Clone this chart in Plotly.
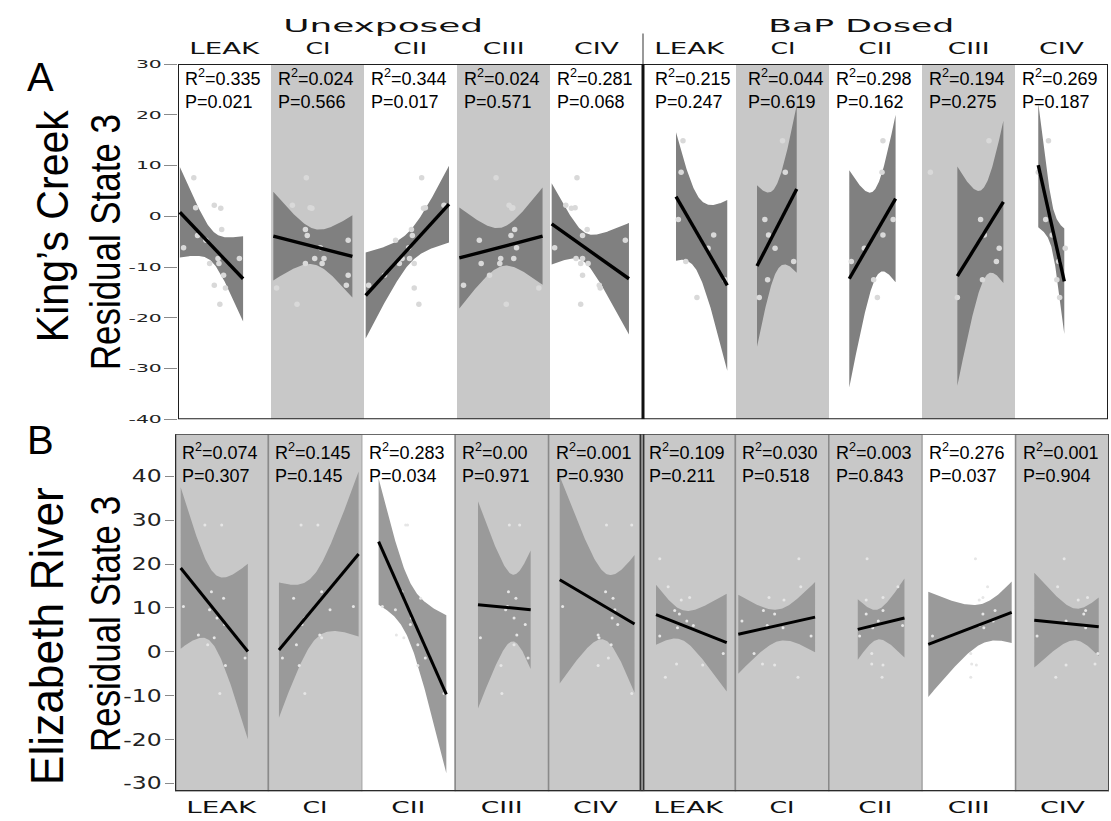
import numpy as np
import plotly.graph_objects as go

W, H = 1111, 821

COMPLEXES = ["LEAK", "CI", "CII", "CIII", "CIV"]
GROUP_TITLES = ["Unexposed", "BaP Dosed"]

# ---------------- Panel A : King's Creek ----------------
# residual state 3 values (shared by every complex within a group)
A_UNEXP_Y = [7.6, 2.2, 1.7, 1.6, -2.6, -3.8, -4.7, -6.2, -8.3, -8.3, -9.3, -9.3, -11.6, -13.6, -14.1, -17.3]
A_BAP_Y = [14.9, 8.7, -0.6, -3.7, -6.3, -8.9, -12.5, -16.0]
# complex activity, expressed as position inside each column (0..1)
A_UNEXP_X = [
    [0.17, 0.39, 0.19, 0.46, 0.47, 0.21, 0.30, 0.06, 0.43, 0.66, 0.34, 0.44, 0.49, 0.39, 0.51, 0.45],
    [0.38, 0.23, 0.42, 0.44, 0.37, 0.39, 0.83, 0.53, 0.47, 0.57, 0.37, 0.55, 0.83, 0.81, 0.06, 0.28],
    [0.62, 0.86, 0.66, 0.64, 0.51, 0.52, 0.34, 0.48, 0.41, 0.49, 0.38, 0.54, 0.22, 0.05, 0.54, 0.59],
    [0.42, 0.56, 0.60, 0.59, 0.62, 0.58, 0.24, 0.64, 0.47, 0.61, 0.26, 0.46, 0.35, 0.07, 0.88, 0.53],
    [0.29, 0.17, 0.27, 0.23, 0.40, 0.35, 0.81, 0.05, 0.28, 0.35, 0.33, 0.41, 0.35, 0.53, 0.54, 0.33],
]
A_BAP_X = [
    [0.43, 0.41, 0.38, 0.76, 0.70, 0.46, 0.88, 0.58],
    [0.50, 0.53, 0.31, 0.35, 0.42, 0.62, 0.34, 0.25],
    [0.58, 0.57, 0.69, 0.58, 0.38, 0.24, 0.48, 0.52],
    [0.72, 0.09, 0.63, 0.67, 0.83, 0.80, 0.65, 0.38],
    [0.36, 0.25, 0.33, 0.40, 0.54, 0.47, 0.45, 0.48],
]
# regression fits: x-range, fitted value at each end, 95% band half-width (left end, narrowest, right end)
A_X_LO = [0.02, 0.025, 0.018, 0.025, 0.018, 0.355, 0.226, 0.218, 0.38, 0.25]
A_X_HI = [0.70, 0.875, 0.914, 0.92, 0.849, 0.906, 0.653, 0.716, 0.875, 0.53]
A_FIT_LO = [0.8, -3.9, -15.6, -8.2, -1.5, 3.9, -9.8, -12.3, -11.8, 10.1]
A_FIT_HI = [-12.3, -7.9, 2.4, -3.9, -12.3, -13.6, 5.4, 3.5, 2.85, -12.8]
A_HW_LEFT = [8.9, 8.75, 8.45, 9.95, 8.0, 12.65, 15.9, 21.4, 21.6, 12.25]
A_HW_MIN = [3.1, 3.5, 3.2, 3.8, 2.9, 7.5, 8.5, 8.8, 9.0, 4.5]
A_HW_RIGHT = [8.4, 8.1, 7.55, 9.6, 11.0, 16.8, 16.5, 16.5, 16.0, 10.4]
A_R2 = ["0.335", "0.024", "0.344", "0.024", "0.281", "0.215", "0.044", "0.298", "0.194", "0.269"]
A_P = ["0.021", "0.566", "0.017", "0.571", "0.068", "0.247", "0.619", "0.162", "0.275", "0.187"]

# ---------------- Panel B : Elizabeth River ----------------
B_UNEXP_Y = [28.9, 28.9, 13.7, 12.2, 10.3, 9.6, 7.7, 6.2, 3.8, 3.2, 1.6, -1.4, -3.1, -9.5]
B_BAP_Y = [21.2, 14.8, 12.4, 11.8, 9.4, 8.6, 7.0, 6.0, 5.5, 3.6, -0.4, -2.8, -3.0, -5.8]
B_UNEXP_X = [
    [0.32, 0.50, 0.39, 0.52, 0.09, 0.37, 0.45, 0.53, 0.25, 0.42, 0.35, 0.75, 0.54, 0.48],
    [0.35, 0.53, 0.57, 0.27, 0.91, 0.66, 0.39, 0.36, 0.55, 0.57, 0.30, 0.15, 0.33, 0.39],
    [0.47, 0.49, 0.43, 0.63, 0.22, 0.36, 0.53, 0.52, 0.37, 0.45, 0.60, 0.68, 0.60, 0.88],
    [0.58, 0.69, 0.57, 0.65, 0.56, 0.54, 0.63, 0.75, 0.66, 0.27, 0.63, 0.78, 0.49, 0.50],
    [0.62, 0.89, 0.61, 0.69, 0.15, 0.71, 0.68, 0.74, 0.53, 0.54, 0.67, 0.64, 0.53, 0.89],
]
B_BAP_X = [
    [0.19, 0.28, 0.51, 0.42, 0.35, 0.40, 0.48, 0.55, 0.38, 0.19, 0.87, 0.37, 0.65, 0.25],
    [0.68, 0.70, 0.36, 0.52, 0.30, 0.42, 0.07, 0.34, 0.51, 0.81, 0.20, 0.29, 0.42, 0.67],
    [0.41, 0.74, 0.58, 0.40, 0.58, 0.40, 0.53, 0.79, 0.47, 0.33, 0.46, 0.46, 0.58, 0.57],
    [0.57, 0.70, 0.65, 0.61, 0.78, 0.65, 0.76, 0.61, 0.66, 0.11, 0.52, 0.53, 0.58, 0.52],
    [0.52, 0.45, 0.77, 0.67, 0.75, 0.73, 0.54, 0.73, 0.75, 0.23, 0.88, 0.85, 0.54, 0.43],
]
B_X_LO = [0.061, 0.113, 0.18, 0.244, 0.119, 0.15, 0.031, 0.31, 0.065, 0.2]
B_X_HI = [0.78, 0.966, 0.905, 0.808, 0.92, 0.907, 0.853, 0.81, 0.958, 0.89]
B_FIT_LO = [19.1, 0.4, 25.1, 10.7, 16.4, 8.45, 4.0, 5.1, 1.7, 7.2]
B_FIT_HI = [0.07, 22.3, -9.7, 9.6, 6.35, 2.1, 7.9, 7.7, 9.0, 5.7]
B_HW_LEFT = [18.4, 15.4, 14.4, 23.6, 23.6, 6.85, 9.0, 6.9, 12.0, 10.8]
B_HW_MIN = [8.2, 7.5, 6.8, 7.6, 7.6, 3.4, 3.6, 3.4, 4.5, 3.6]
B_HW_RIGHT = [20.0, 18.8, 18.0, 13.5, 15.7, 11.15, 8.0, 9.0, 7.0, 6.65]
B_R2 = ["0.074", "0.145", "0.283", "0.00", "0.001", "0.109", "0.030", "0.003", "0.276", "0.001"]
B_P = ["0.307", "0.145", "0.034", "0.971", "0.930", "0.211", "0.518", "0.843", "0.037", "0.904"]

# ---------------- geometry (pixels) ----------------
A_LEFT, A_RIGHT, A_TOP, A_BOTTOM = 178, 1108, 59, 420
B_LEFT, B_RIGHT, B_TOP, B_BOTTOM = 175, 1109, 435, 798
A_YRANGE = [-40, 30]
B_YRANGE = [-31.8, 49.6]

GRAY_COL = "#c8c8c8"


def px_x(x):
    return x / W


def px_y(y):
    return 1 - y / H


def conf_band(lo, hi, y_lo, y_hi, hw_l, hw_min, hw_r, n=90):
    """Straight fit with a hyperbolic confidence band."""
    rl = np.sqrt(max(hw_l ** 2 - hw_min ** 2, 0.0))
    rr = np.sqrt(max(hw_r ** 2 - hw_min ** 2, 0.0))
    k = (rl + rr) / (hi - lo)
    centre = lo + rl / k
    u = np.linspace(lo, hi, n)
    fit = y_lo + (y_hi - y_lo) * (u - lo) / (hi - lo)
    half = np.sqrt(hw_min ** 2 + (k * (u - centre)) ** 2)
    return u, fit + half, fit - half


fig = go.Figure()


def add_panel(xa, ya, xs_groups, ys_groups, lo, hi, f_lo, f_hi, hw_l, hw_m, hw_r,
              band_col, pt_col, pt_size, line_w):
    for i in range(10):
        g = i // 5
        xs = np.array(xs_groups[g][i % 5]) + i
        ys = ys_groups[g]
        u, up, dn = conf_band(lo[i], hi[i], f_lo[i], f_hi[i], hw_l[i], hw_m[i], hw_r[i])
        fig.add_trace(go.Scatter(
            x=np.r_[u + i, (u + i)[::-1]], y=np.r_[up, dn[::-1]],
            fill="toself", fillcolor=band_col, mode="lines", line=dict(width=0),
            hoverinfo="skip", showlegend=False, xaxis=xa, yaxis=ya))
        fig.add_trace(go.Scatter(
            x=xs, y=ys, mode="markers",
            marker=dict(size=pt_size, color=pt_col, line=dict(width=0)),
            showlegend=False, xaxis=xa, yaxis=ya))
        fig.add_trace(go.Scatter(
            x=[lo[i] + i, hi[i] + i], y=[f_lo[i], f_hi[i]], mode="lines",
            line=dict(color="black", width=line_w), showlegend=False,
            xaxis=xa, yaxis=ya))


add_panel("x", "y", [A_UNEXP_X, A_BAP_X], [A_UNEXP_Y, A_BAP_Y],
          A_X_LO, A_X_HI, A_FIT_LO, A_FIT_HI, A_HW_LEFT, A_HW_MIN, A_HW_RIGHT,
          "#808080", "#d9d9d9", 5.5, 3.4)
add_panel("x2", "y2", [B_UNEXP_X, B_BAP_X], [B_UNEXP_Y, B_BAP_Y],
          B_X_LO, B_X_HI, B_FIT_LO, B_FIT_HI, B_HW_LEFT, B_HW_MIN, B_HW_RIGHT,
          "#9a9a9a", "#e6e6e6", 3, 3.0)

shapes = []
# panel A column shading and frame
for i in (1, 3, 6, 8):
    shapes.append(dict(type="rect", xref="x", yref="y", x0=i, x1=i + 1, y0=A_YRANGE[0], y1=A_YRANGE[1],
                       fillcolor=GRAY_COL, line=dict(width=0), layer="below"))
shapes.append(dict(type="rect", xref="x", yref="y", x0=0, x1=10, y0=A_YRANGE[0], y1=A_YRANGE[1],
                   line=dict(color="#1e1e1e", width=2), layer="above"))
shapes.append(dict(type="line", xref="x", yref="y", x0=5, x1=5, y0=A_YRANGE[0], y1=A_YRANGE[1],
                   line=dict(color="#111111", width=3), layer="above"))
shapes.append(dict(type="line", xref="x", yref="paper", x0=5, x1=5, y0=px_y(A_TOP), y1=px_y(28),
                   line=dict(color="#555555", width=1.2), layer="above"))
# panel B column boxes and frame
for i in range(10):
    white = i in (2, 8)
    shapes.append(dict(type="rect", xref="x2", yref="y2", x0=i, x1=i + 1, y0=B_YRANGE[0], y1=B_YRANGE[1],
                       fillcolor="white" if white else GRAY_COL,
                       line=dict(color="#b4b4b4" if white else "#8a8a8a", width=1.5), layer="below"))
shapes.append(dict(type="line", xref="x2", yref="y2", x0=0, x1=0, y0=B_YRANGE[0], y1=B_YRANGE[1],
                   line=dict(color="#2a2a2a", width=2.5), layer="above"))
shapes.append(dict(type="line", xref="x2", yref="y2", x0=0, x1=10, y0=B_YRANGE[0], y1=B_YRANGE[0],
                   line=dict(color="#2a2a2a", width=2.5), layer="above"))
shapes.append(dict(type="line", xref="x2", yref="y2", x0=0, x1=10, y0=B_YRANGE[1], y1=B_YRANGE[1],
                   line=dict(color="#4a4a4a", width=1.5), layer="above"))
shapes.append(dict(type="line", xref="x2", yref="y2", x0=10, x1=10, y0=B_YRANGE[0], y1=B_YRANGE[1],
                   line=dict(color="#4a4a4a", width=2), layer="above"))
for dx in (-0.018, 0.018):
    shapes.append(dict(type="line", xref="x2", yref="y2", x0=5 + dx, x1=5 + dx, y0=B_YRANGE[0], y1=B_YRANGE[1],
                       line=dict(color="#333333", width=1.5), layer="above"))

annotations = []


def label(text, x, y, font, angle=0, xanchor="center", align="center"):
    return dict(text=text, x=x, y=y, xref="paper", yref="paper", xanchor=xanchor, yanchor="middle",
                showarrow=False, textangle=angle, font=font, align=align)


LABEL_FONT = dict(family="DejaVu Sans", size=16, color="#111111")
GROUP_FONT = dict(family="DejaVu Sans", size=18, color="#111111")
annotations.append(label(GROUP_TITLES[0], px_x(383), px_y(20), GROUP_FONT))
annotations.append(label(GROUP_TITLES[1], px_x(861), px_y(20), GROUP_FONT))
# complex labels above panel A and below panel B
a_col = (A_RIGHT - A_LEFT) / 10
b_col = (B_RIGHT - B_LEFT) / 10
for i in range(10):
    name = COMPLEXES[i % 5]
    annotations.append(label(name, px_x(A_LEFT + (i + 0.5) * a_col), px_y(43), LABEL_FONT))
    annotations.append(label(name, px_x(B_LEFT + (i + 0.5) * b_col), px_y(814), LABEL_FONT))

# R^2 and P statistics in the top-left corner of each column
STAT_FONT = dict(family="Liberation Sans", size=18, color="black")
for i in range(10):
    a_off = 10 if i in (5, 6) else 5
    annotations.append(label("R<sup>2</sup>=" + A_R2[i] + "<br>P=" + A_P[i],
                             px_x(A_LEFT + i * a_col + a_off), px_y(84), STAT_FONT,
                             xanchor="left", align="left"))
    annotations.append(label("R<sup>2</sup>=" + B_R2[i] + "<br>P=" + B_P[i],
                             px_x(B_LEFT + i * b_col + 5), px_y(464), STAT_FONT,
                             xanchor="left", align="left"))

TITLE_FONT = "Liberation Sans"
annotations += [
    label("A", px_x(40), px_y(72), dict(family=TITLE_FONT, size=40, color="black")),
    label("B", px_x(40), px_y(441), dict(family=TITLE_FONT, size=40, color="black")),
    label("King’s Creek", px_x(52), px_y(223), dict(family=TITLE_FONT, size=44, color="black"), angle=-90),
    label("Residual State 3", px_x(105), px_y(240), dict(family=TITLE_FONT, size=42, color="black"), angle=-90),
    label("Elizabeth River", px_x(47), px_y(641), dict(family=TITLE_FONT, size=46, color="black"), angle=-90),
    label("Residual State 3", px_x(105), px_y(628), dict(family=TITLE_FONT, size=42, color="black"), angle=-90),
]

A_TICKS = [-40, -30, -20, -10, 0, 10, 20, 30]
B_TICKS = [-30, -20, -10, 0, 10, 20, 30, 40]

common_x = dict(showgrid=False, zeroline=False, showticklabels=False, ticks="", showline=False,
                fixedrange=True)
fig.update_layout(
    width=W, height=H, margin=dict(l=0, r=0, t=0, b=0),
    paper_bgcolor="white", plot_bgcolor="rgba(0,0,0,0)",
    showlegend=False,
    xaxis=dict(domain=[px_x(A_LEFT), px_x(A_RIGHT)], range=[0, 10], **common_x),
    yaxis=dict(domain=[px_y(A_BOTTOM), px_y(A_TOP)], range=A_YRANGE, tickvals=A_TICKS,
               ticktext=[str(t) for t in A_TICKS], ticks="outside", ticklen=13, tickwidth=1,
               tickcolor="#8a8a8a", showgrid=False, zeroline=False, showline=False,
               tickfont=dict(family="DejaVu Sans", size=11, color="#222222")),
    xaxis2=dict(domain=[px_x(B_LEFT), px_x(B_RIGHT)], range=[0, 10], anchor="y2", **common_x),
    yaxis2=dict(domain=[px_y(B_BOTTOM), px_y(B_TOP)], range=B_YRANGE, tickvals=B_TICKS, anchor="x2",
                ticktext=[str(t) for t in B_TICKS], ticks="outside", ticklen=9, tickwidth=1,
                tickcolor="#8a8a8a", showgrid=False, zeroline=False, showline=False,
                tickfont=dict(family="DejaVu Sans", size=17, color="#222222")),
    shapes=shapes, annotations=annotations,
)

# the labels use an extended / condensed face: set their rendered lengths
TEXT_LENGTHS = {
    "Unexposed": 200, "BaP Dosed": 186,
    "LEAK": 70, "CI": 25, "CII": 34, "CIII": 42, "CIV": 45,
    "King’s Creek": 232, "Residual State 3": 256, "Elizabeth River": 298,
}
post = """
var gd = document.getElementById('{plot_id}');
var lengths = %s;
function fitText() {
  gd.querySelectorAll('text.annotation-text').forEach(function (t) {
    var w = lengths[t.textContent];
    if (w) { t.setAttribute('textLength', w); t.setAttribute('lengthAdjust', 'spacingAndGlyphs'); }
  });
  var stretch = {'ytick': 1.85, 'y2tick': 1.38};
  Object.keys(stretch).forEach(function (cls) {
    gd.querySelectorAll('g.' + cls + ' text').forEach(function (t) {
      var L = t.getComputedTextLength();
      t.setAttribute('textLength', L * stretch[cls]);
      t.setAttribute('lengthAdjust', 'spacingAndGlyphs');
    });
  });
}
fitText();
""" % str(TEXT_LENGTHS).replace("'", '"')

fig.write_html("out.html", post_script=post)
